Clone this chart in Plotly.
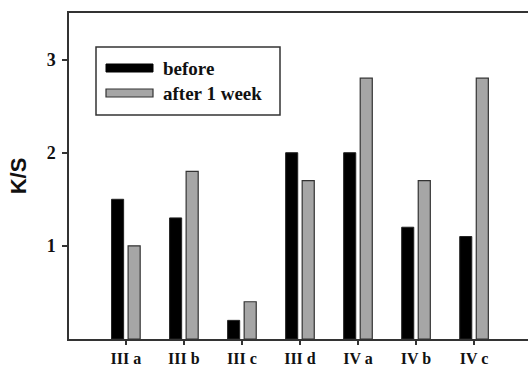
import plotly.graph_objects as go

categories = ["III a", "III b", "III c", "III d", "IV a", "IV b", "IV c"]
before = [1.5, 1.3, 0.2, 2.0, 2.0, 1.2, 1.1]
after_week = [1.0, 1.8, 0.4, 1.7, 2.8, 1.7, 2.8]
series_names = ["before", "after 1 week"]
y_ticks = [1, 2, 3]

serif = "Liberation Serif, Times New Roman, serif"
axis_col = "#333333"

fig = go.Figure()
fig.add_trace(go.Bar(x=categories, y=before, name=series_names[0],
                     marker=dict(color="#000000", line=dict(color="#222222", width=1)),
                     showlegend=False))
fig.add_trace(go.Bar(x=categories, y=after_week, name=series_names[1],
                     marker=dict(color="#a6a6a6", line=dict(color="#333333", width=1.2)),
                     showlegend=False))

TOP, BOT = 13, 31

fig.update_layout(
    width=528, height=370,
    margin=dict(l=69, r=0, t=TOP, b=BOT),
    paper_bgcolor="white", plot_bgcolor="white",
    barmode="group", bargap=0.43, bargroupgap=0.27,
    font=dict(family=serif, size=14, color="#111111"),
)
fig.update_xaxes(
    range=[-0.98, 6.93], showline=True, linecolor=axis_col, linewidth=1.5,
    mirror=True, ticks="outside", ticklen=4, tickcolor=axis_col, tickwidth=1.5,
    tickfont=dict(family=serif, size=16, color="#111111", weight="bold"),
    automargin=False,
    showgrid=False, zeroline=False,
)
fig.update_yaxes(
    range=[0, 3.5], tickvals=y_ticks, showline=True, linecolor=axis_col, linewidth=1.5,
    ticks="outside", ticklen=5, tickcolor=axis_col, tickwidth=1.5,
    tickfont=dict(family=serif, size=18, color="#111111", weight="bold"),
    ticklabelstandoff=3, automargin=False,
    showgrid=False, zeroline=False,
    title=dict(text="K/S", standoff=14,
               font=dict(family="Liberation Sans, Arial, sans-serif", size=22, color="#111111", weight="bold")),
)

# Legend drawn manually (box, swatches, labels) in paper coordinates
def px_x(v):
    return (v - 69) / (528 - 69)

def px_y(v):
    return (370 - BOT - v) / (370 - BOT - TOP)

fig.add_shape(type="rect", xref="paper", yref="paper",
              x0=px_x(96), x1=px_x(280), y0=px_y(115), y1=px_y(47),
              line=dict(color=axis_col, width=1.5), fillcolor="white")
fig.add_shape(type="rect", xref="paper", yref="paper",
              x0=px_x(106), x1=px_x(153), y0=px_y(72), y1=px_y(64),
              line=dict(color="#000000", width=1), fillcolor="#000000")
fig.add_shape(type="rect", xref="paper", yref="paper",
              x0=px_x(106), x1=px_x(153), y0=px_y(97), y1=px_y(89),
              line=dict(color="#333333", width=1.2), fillcolor="#a6a6a6")
for name, yc in zip(series_names, [68, 93]):
    fig.add_annotation(xref="paper", yref="paper", x=px_x(161), y=px_y(yc),
                       text="<b>" + name + "</b>", showarrow=False,
                       xanchor="left", yanchor="middle",
                       font=dict(family=serif, size=19, color="#111111"))

fig.write_html("out.html")
